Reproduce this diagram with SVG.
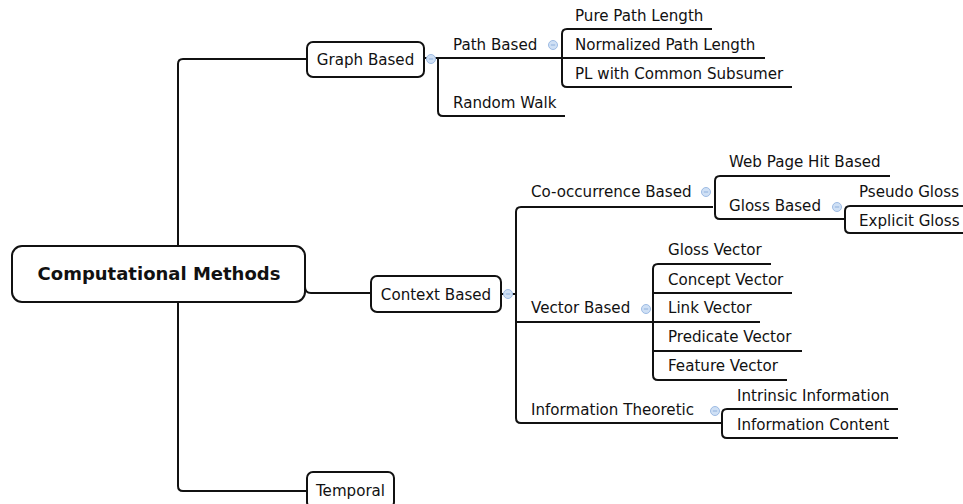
<svg xmlns="http://www.w3.org/2000/svg" width="963" height="504" viewBox="0 0 963 504">
<defs>
<style>
.c{fill:none;stroke:#111;stroke-width:2;stroke-linejoin:round}
.b{fill:#fff;stroke:#111;stroke-width:2}
.t{font-family:"DejaVu Sans",Verdana,sans-serif;font-size:15.1px;fill:#111}
.r{font-family:"DejaVu Sans",Verdana,sans-serif;font-size:18px;font-weight:bold;fill:#111}
.k{fill:#cfe0f5;stroke:#9dbbe3;stroke-width:1}
.m{stroke:#8fb0dc;stroke-width:1}
</style>
<g id="icon"><circle class="k" cx="0" cy="0" r="4.5"/><line class="m" x1="-2.2" y1="0" x2="2.2" y2="0"/></g>
</defs>
<rect width="963" height="504" fill="#fff"/>
<g id="connectors">
<path class="c" d="M307 59 L183 59 Q178 59 178 64 L178 486 Q178 491 183 491 L307 491"/>
<path class="c" d="M305 287 Q305 293 311 293 L371 293"/>
<path class="c" d="M424 58 L765 58"/>
<path class="c" d="M438 58 L438 111 Q438 116 443 116 L565 116"/>
<path class="c" d="M712 29 L567 29 Q562 29 562 34 L562 82 Q562 87 567 87 L792 87"/>
<path class="c" d="M501 294 L516 294"/>
<path class="c" d="M713 207 L521 207 Q516 207 516 212 L516 418 Q516 423 521 423 L722 423"/>
<path class="c" d="M890 176 L720 176 Q715 176 715 181 L715 214 Q715 219 720 219 L845 219"/>
<path class="c" d="M965 206 L850 206 Q845 206 845 211 L845 228 Q845 233 850 233 L965 233"/>
<path class="c" d="M516 322 L760 322"/>
<path class="c" d="M771 264 L658 264 Q653 264 653 269 L653 375 Q653 380 658 380 L787 380"/>
<path class="c" d="M653 293 L792 293"/>
<path class="c" d="M653 351 L802 351"/>
<path class="c" d="M898 409 L727 409 Q722 409 722 414 L722 433 Q722 438 727 438 L898 438"/>
</g>
<g id="root"><rect class="b" x="12" y="246" width="293" height="56" rx="10"/><text class="r" x="159" y="280" text-anchor="middle">Computational Methods</text></g>
<g id="graph-based"><rect class="b" x="307" y="42" width="117" height="35" rx="6"/><text class="t" x="365.5" y="65" text-anchor="middle">Graph Based</text><use href="#icon" x="431" y="59"/></g>
<g id="path-based"><text class="t" x="453" y="50">Path Based</text><use href="#icon" x="553" y="45"/></g>
<g id="random-walk"><text class="t" x="453" y="108">Random Walk</text></g>
<g id="pure-path"><text class="t" x="575" y="21">Pure Path Length</text></g>
<g id="normalized-path"><text class="t" x="575" y="50">Normalized Path Length</text></g>
<g id="pl-common"><text class="t" x="575" y="79">PL with Common Subsumer</text></g>
<g id="context-based"><rect class="b" x="371" y="276" width="130" height="36" rx="6"/><text class="t" x="436" y="300" text-anchor="middle">Context Based</text><use href="#icon" x="508" y="294"/></g>
<g id="cooccurrence"><text class="t" x="531" y="197">Co-occurrence Based</text><use href="#icon" x="706" y="192"/></g>
<g id="web-page"><text class="t" x="729" y="167">Web Page Hit Based</text></g>
<g id="gloss-based"><text class="t" x="729" y="211">Gloss Based</text><use href="#icon" x="837" y="207"/></g>
<g id="pseudo-gloss"><text class="t" x="859" y="197">Pseudo Gloss</text></g>
<g id="explicit-gloss"><text class="t" x="859" y="226">Explicit Gloss</text></g>
<g id="vector-based"><text class="t" x="531" y="313">Vector Based</text><use href="#icon" x="646" y="309"/></g>
<g id="gloss-vector"><text class="t" x="668" y="255">Gloss Vector</text></g>
<g id="concept-vector"><text class="t" x="668" y="285">Concept Vector</text></g>
<g id="link-vector"><text class="t" x="668" y="313">Link Vector</text></g>
<g id="predicate-vector"><text class="t" x="668" y="342">Predicate Vector</text></g>
<g id="feature-vector"><text class="t" x="668" y="371">Feature Vector</text></g>
<g id="info-theoretic"><text class="t" x="531" y="415">Information Theoretic</text><use href="#icon" x="715" y="411"/></g>
<g id="intrinsic-info"><text class="t" x="737" y="401">Intrinsic Information</text></g>
<g id="info-content"><text class="t" x="737" y="430">Information Content</text></g>
<g id="temporal"><rect class="b" x="307" y="472" width="87" height="36" rx="6"/><text class="t" x="350.5" y="496" text-anchor="middle">Temporal</text></g>
</svg>
